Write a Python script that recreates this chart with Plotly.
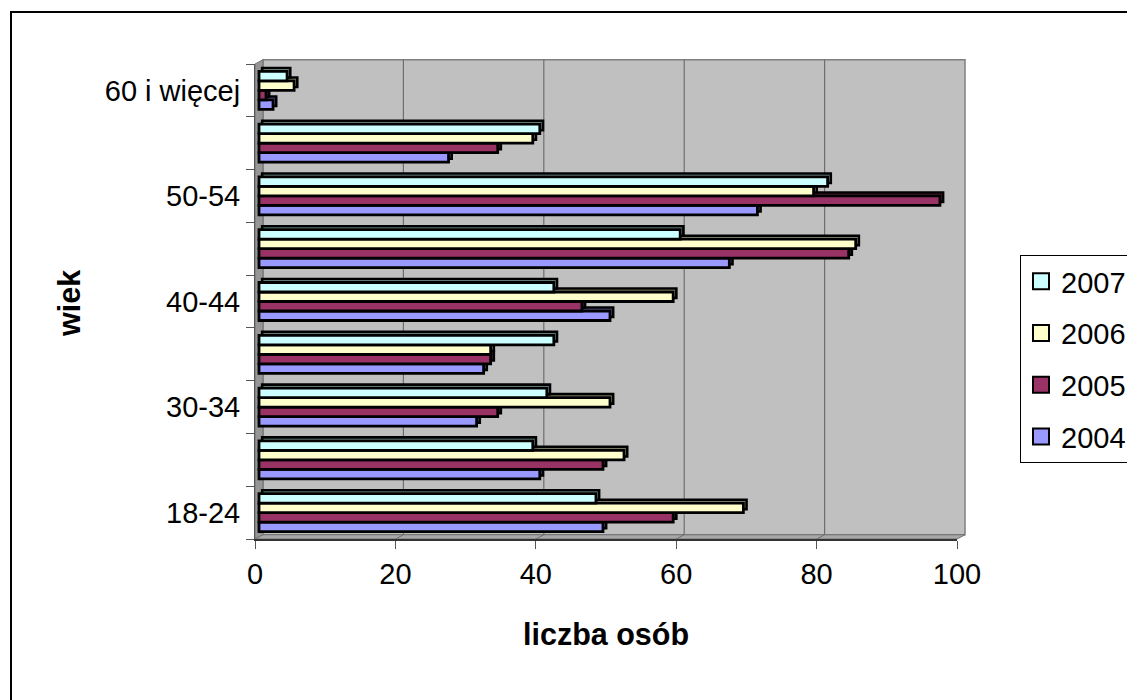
import plotly.graph_objects as go

# ---------------- data ----------------
categories = ["18-24", "25-29", "30-34", "35-39", "40-44", "45-49", "50-54", "55-59", "60 i więcej"]
shown_labels = ["18-24", "30-34", "40-44", "50-54", "60 i więcej"]
years = ["2004", "2005", "2006", "2007"]
v2004 = [49, 40, 31, 32, 50, 67, 71, 27, 2]
v2005 = [59, 49, 34, 33, 46, 84, 97, 34, 1]
v2006 = [69, 52, 50, 33, 59, 85, 79, 39, 5]
v2007 = [48, 39, 41, 42, 42, 60, 81, 40, 4]
x_ticks = [0, 20, 40, 60, 80, 100]

series = {"2004": v2004, "2005": v2005, "2006": v2006, "2007": v2007}
front_colors = {"2004": "#9999FF", "2005": "#993366", "2006": "#FFFFCC", "2007": "#CCFFFF"}
side_colors = {"2004": "#5C5CA0", "2005": "#5C1F3D", "2006": "#A0A080", "2007": "#80A0A0"}
bar_offsets = {"2004": -0.36, "2005": -0.18, "2006": 0.0, "2007": 0.18}

FONT = "Liberation Sans, Arial, sans-serif"

# ---------------- geometry ----------------
W, H = 1127, 700
ML, MR, MT, MB = 255, 170, 64, 161
XMAX = 100
NCAT = len(categories)
DX = 1.14   # wall depth in x data units
DY = 0.08   # wall depth in category units
BDX = 0.45  # bar depth (x)
BDY = 0.065  # bar depth (y)
BW = 0.18   # bar width (category units)

ypos = list(range(NCAT))


def px(v):
    return v / XMAX


def py(c):
    return (c + 0.5) / NCAT


fig = go.Figure()

# bars: lower series first, each with its 3D extrusion behind it
for yr in years:
    vals = series[yr]
    fig.add_trace(go.Bar(
        orientation="h", y=ypos, x=vals, base=DX / 2 + BDX,
        offset=bar_offsets[yr] + BDY, width=BW,
        marker=dict(color=side_colors[yr], line=dict(color="black", width=2.6)),
        showlegend=False, hoverinfo="skip"))
    fig.add_trace(go.Bar(
        orientation="h", y=ypos, x=vals, base=DX / 2,
        offset=bar_offsets[yr], width=BW,
        marker=dict(color=front_colors[yr], line=dict(color="black", width=2.8)),
        showlegend=False, name=yr))

# legend entries
for yr in reversed(years):
    fig.add_trace(go.Scatter(
        x=[None], y=[None], mode="markers", name=yr, legendgroup=yr,
        marker=dict(symbol="square", size=16, color=front_colors[yr],
                    line=dict(color="black", width=2))))

shapes = []
# outer chart border
shapes.append(dict(type="rect", xref="paper", yref="paper",
                   x0=(11 - ML) / (W - ML - MR), x1=1.5,
                   y0=-0.6, y1=(H - MB - 12) / (H - MT - MB),
                   line=dict(color="black", width=2), fillcolor="white", layer="below"))
# back wall
shapes.append(dict(type="rect", xref="paper", yref="paper",
                   x0=px(DX), x1=px(XMAX + DX), y0=py(-0.5 + DY), y1=py(NCAT - 0.5 + DY),
                   line=dict(color="#808080", width=1.5), fillcolor="#C0C0C0", layer="below"))
# left wall
shapes.append(dict(type="path", xref="paper", yref="paper",
                   path=f"M{px(0)},{py(-0.5)} L{px(0)},{py(NCAT - 0.5)} "
                        f"L{px(DX)},{py(NCAT - 0.5 + DY)} L{px(DX)},{py(-0.5 + DY)} Z",
                   line=dict(color="#707070", width=1), fillcolor="#969696", layer="below"))
# floor
shapes.append(dict(type="path", xref="paper", yref="paper",
                   path=f"M{px(0)},{py(-0.5)} L{px(XMAX)},{py(-0.5)} "
                        f"L{px(XMAX + DX)},{py(-0.5 + DY)} L{px(DX)},{py(-0.5 + DY)} Z",
                   line=dict(color="#707070", width=1), fillcolor="#A8A8A8", layer="below"))
# gridlines on back wall + floor
for v in x_ticks[1:-1]:
    shapes.append(dict(type="line", xref="paper", yref="paper",
                       x0=px(v + DX), x1=px(v + DX), y0=py(-0.5 + DY), y1=py(NCAT - 0.5 + DY),
                       line=dict(color="#6E6E6E", width=1.2), layer="below"))
    shapes.append(dict(type="line", xref="paper", yref="paper",
                       x0=px(v), x1=px(v + DX), y0=py(-0.5), y1=py(-0.5 + DY),
                       line=dict(color="#6E6E6E", width=1), layer="below"))

annotations = [
    dict(text="<b>liczba osób</b>", xref="paper", yref="paper", x=0.5, y=-0.2,
         xanchor="center", yanchor="middle", showarrow=False,
         font=dict(family=FONT, size=30.5, color="black")),
    dict(text="<b>wiek</b>", xref="paper", yref="paper", x=(69 - ML) / (W - ML - MR), y=0.495,
         xanchor="center", yanchor="middle", showarrow=False, textangle=-90,
         font=dict(family=FONT, size=30.5, color="black")),
]

fig.update_layout(
    width=W, height=H, autosize=False,
    margin=dict(l=ML, r=MR, t=MT, b=MB, autoexpand=False),
    paper_bgcolor="white", plot_bgcolor="rgba(0,0,0,0)",
    barmode="overlay",
    font=dict(family=FONT, size=29, color="black"),
    shapes=shapes, annotations=annotations,
    showlegend=True,
    legend=dict(x=(1020 - ML) / (W - ML - MR), xanchor="left",
                y=(H - MB - 359) / (H - MT - MB), yanchor="middle",
                bordercolor="black", borderwidth=1, bgcolor="white",
                font=dict(family=FONT, size=29, color="black"),
                tracegroupgap=11, traceorder="grouped"),
    xaxis=dict(range=[0, XMAX], tickmode="array", tickvals=x_ticks,
               ticks="outside", ticklen=8, tickwidth=1, tickcolor="#555555",
               showline=True, linecolor="#333333", linewidth=1.5,
               showgrid=False, zeroline=False, fixedrange=True,
               tickfont=dict(family=FONT, size=29, color="black")),
    yaxis=dict(range=[-0.5, NCAT - 0.5], tickmode="array",
               tickvals=[categories.index(c) for c in shown_labels], ticktext=shown_labels,
               ticks="outside", ticklen=8, tickcolor="rgba(0,0,0,0)",
               minor=dict(tickmode="array", tickvals=[i - 0.5 for i in range(NCAT + 1)],
                          ticks="outside", ticklen=8, tickcolor="#555555", showgrid=False),
               showline=True, linecolor="#555555", linewidth=1,
               showgrid=False, zeroline=False, fixedrange=True,
               tickfont=dict(family=FONT, size=29, color="black")),
)

fig.write_html("out.html")
